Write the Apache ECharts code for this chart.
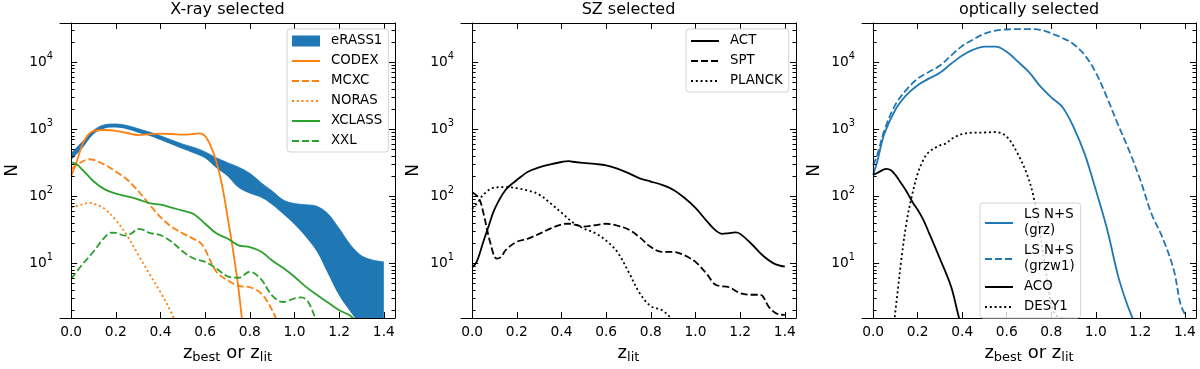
<!DOCTYPE html>
<html><head><meta charset="utf-8">
<script src="https://cdn.jsdelivr.net/npm/echarts@6/dist/echarts.min.js"></script>
<style>html,body{margin:0;padding:0;background:#fff}#c{width:1200px;height:369px}</style>
</head><body><div id="c"></div>
<script>
// ---------------- data ----------------
const panelTitles = ['X-ray selected', 'SZ selected', 'optically selected'];
const xTickValues = [0, 0.2, 0.4, 0.6, 0.8, 1.0, 1.2, 1.4];
const yMajorValues = [10, 100, 1000, 10000];

// X-ray panel
const erassZ = [0,0.05,0.1,0.15,0.2,0.25,0.3,0.35,0.4,0.45,0.5,0.55,0.6,0.65,0.7,0.75,0.8,0.85,0.9,0.95,1.0,1.05,1.1,1.15,1.2,1.25,1.3,1.35,1.4];
const erassUpper = [437,650,960,1170,1200,1140,1020,910,800,690,600,535,460,375,318,272,220,160,120,88,78,75,71,55,33,19,13,11.2,10.5];
const erassLower = [347,520,845,1030,1060,1000,890,800,690,595,510,440,370,265,200,134,110,96,75,54,38,25,15,7,3.3,1.9,1.15,0.7,0.45];
const codexZ = [0,0.025,0.05,0.075,0.1,0.15,0.2,0.25,0.3,0.35,0.4,0.45,0.5,0.55,0.575,0.6,0.625,0.65,0.675,0.7,0.725,0.75,0.775,0.8];
const codexN = [200,330,590,820,940,975,945,880,820,845,860,850,830,850,870,790,560,330,150,50,15.5,4,0.7,0.15];
const mcxcZ = [0,0.05,0.08,0.1,0.15,0.2,0.25,0.3,0.35,0.4,0.45,0.5,0.55,0.58,0.6,0.65,0.7,0.75,0.8,0.85,0.9,0.95];
const mcxcN = [255,330,357,350,296,235,178,120,76,49,35,28,23,20,16,7.5,5.6,4.6,4.4,3.6,2.0,0.8];
const norasZ = [0,0.05,0.08,0.1,0.15,0.2,0.25,0.3,0.35,0.4,0.45,0.5];
const norasN = [68,76,80,78,65,44,26,13.5,7,3.7,1.8,0.8];
const xclassZ = [0,0.025,0.05,0.1,0.15,0.2,0.25,0.3,0.35,0.4,0.45,0.5,0.55,0.6,0.65,0.7,0.75,0.8,0.85,0.9,0.95,1.0,1.05,1.1,1.15,1.2,1.25,1.3];
const xclassN = [320,300,250,168,127,110,100,90,79,75,68,61,54,39,28,23.5,18.5,17.5,15,11,8.5,6.3,4.5,3.4,2.6,2.0,1.65,1.1];
const xxlZ = [0,0.05,0.1,0.15,0.18,0.2,0.24,0.27,0.3,0.33,0.35,0.4,0.45,0.5,0.55,0.6,0.65,0.7,0.75,0.8,0.85,0.9,0.95,1.0,1.03,1.06,1.1,1.15];
const xxlN = [5.9,9.6,15,24.5,28.6,28.4,26,28,32.6,31,28.5,26.3,21,15,11.8,10.5,8.4,6.4,6.1,7.5,5.8,3.3,2.65,3.0,3.1,2.7,1.3,0.4];

// SZ panel
const actZ = [0,0.02,0.05,0.075,0.1,0.15,0.2,0.25,0.3,0.35,0.4,0.43,0.45,0.5,0.55,0.6,0.65,0.7,0.75,0.8,0.85,0.9,0.95,1.0,1.05,1.09,1.12,1.15,1.18,1.2,1.25,1.3,1.35,1.4];
const actN = [8.7,10.5,21,37,64,125,175,233,270,300,325,336,328,315,304,290,259,222,185,166,148,125,95,67,43,31,27.5,28.3,29,27.5,19.6,13.2,10,8.9];
const sptZ = [0,0.03,0.05,0.08,0.11,0.13,0.15,0.2,0.25,0.3,0.35,0.4,0.43,0.47,0.5,0.55,0.6,0.65,0.7,0.75,0.8,0.85,0.9,0.95,1.0,1.05,1.09,1.15,1.2,1.25,1.29,1.33,1.37,1.4];
const sptN = [115,94,57,21,11.8,12.5,15.8,21,23.4,27.5,33,38,39,37,35.3,37,39,36.5,32,24.5,17.5,14.8,14.8,13.2,10.5,7.0,4.8,4.4,3.6,3.4,3.4,2.2,1.74,1.7];
const planckZ = [0,0.03,0.05,0.1,0.15,0.2,0.25,0.3,0.35,0.4,0.45,0.5,0.55,0.6,0.65,0.7,0.75,0.8,0.85,0.9,0.95];
const planckN = [65,85,106,135,137,132,122,106,79,57,41,33,28.3,21.8,14.8,7.5,3.6,2.3,2.0,1.4,0.8];

// optical panel
const grzZ = [0,0.02,0.05,0.1,0.15,0.2,0.25,0.3,0.35,0.4,0.45,0.5,0.55,0.6,0.65,0.7,0.75,0.8,0.85,0.9,0.95,1.0,1.05,1.1,1.13,1.16,1.2];
const grzN = [209,346,850,1960,3250,4550,5700,6960,9500,12600,15400,17100,17100,14300,10200,7100,4400,3000,2150,1080,430,125,33,6.5,3.1,1.67,0.8];
const grzw1Z = [0,0.02,0.05,0.1,0.15,0.2,0.25,0.3,0.35,0.4,0.45,0.5,0.55,0.6,0.65,0.7,0.75,0.8,0.85,0.9,0.95,1.0,1.05,1.1,1.15,1.2,1.25,1.3,1.35,1.38,1.4];
const grzw1N = [290,430,955,2330,3900,5700,7150,8940,12600,17500,21900,26800,29700,30800,31300,31300,30500,27000,23000,18600,12800,7000,3000,1170,480,175,55,24,8,2.5,1.75];
const acoZ = [0,0.02,0.06,0.08,0.1,0.125,0.15,0.18,0.2,0.225,0.25,0.3,0.35,0.385,0.4];
const acoN = [209,225,257,245,209,158,118,79,63,45,29,11.7,4.5,1.57,1.1];
const desZ = [0.08,0.1,0.112,0.127,0.15,0.172,0.2,0.225,0.25,0.3,0.33,0.35,0.4,0.45,0.5,0.55,0.6,0.65,0.69,0.72,0.75,0.77,0.8,0.82,0.85,0.87];
const desN = [0.5,1.95,4.3,11.7,41,95,218,346,458,575,620,712,850,890,895,910,775,428,218,100,28,10,2.5,1.7,1.5,1.0];

// ---------------- chart ----------------
const FONT = "'DejaVu Sans', sans-serif";
const BLUE = '#1f77b4', ORANGE = '#ff7f0e', GREEN = '#2ca02c', BLACK = '#000000';
const DASH = [7, 3], DOT = [2, 2.8];
const LW = 1.8;
const Y_MIN = 1.53, Y_MAX = 38500, X_MIN = -0.05, X_MAX = 1.45;
const SMOOTH = 0.35;
const TICK_FS = 13.8;

const yMinorValues = [];
[1, 10, 100, 1000, 10000].forEach(d => { for (let k = 2; k <= 9; k++) yMinorValues.push(d * k); });

const zip = (zs, ns) => zs.map((z, i) => [z, ns[i]]);

const gridDefs = [
  { left: 60, top: 23, width: 335, height: 301 },
  { left: 461, top: 23, width: 335, height: 301 },
  { left: 862, top: 23, width: 334, height: 301 }
];

const xNames = ['{m|z}{s|best}{m| or z}{s|lit}', '{m|z}{s|lit}', '{m|z}{s|best}{m| or z}{s|lit}'];
const nameRich = {
  m: { fontSize: 18, fontFamily: FONT, color: '#000', lineHeight: 22, verticalAlign: 'middle' },
  s: { fontSize: 13, fontFamily: FONT, color: '#000', lineHeight: 13, verticalAlign: 'bottom' }
};

const xAxes = [], yAxes = [];
gridDefs.forEach((g, i) => {
  const baseX = {
    gridIndex: i, type: 'value', min: X_MIN, max: X_MAX, z: 10,
    axisLine: { show: true, onZero: false, lineStyle: { color: '#000', width: 1 } },
    axisTick: { show: true, inside: true, length: 6, customValues: xTickValues, lineStyle: { color: '#000', width: 1 } },
    splitLine: { show: false }
  };
  xAxes.push(Object.assign({}, baseX, {
    position: 'bottom',
    axisLabel: { show: true, customValues: xTickValues, formatter: v => v.toFixed(1), color: '#000', fontSize: TICK_FS, fontFamily: FONT, margin: 7 },
    name: xNames[i], nameLocation: 'middle', nameGap: 24,
    nameTextStyle: { rich: nameRich }
  }));
  xAxes.push(Object.assign({}, baseX, { position: 'top', axisLabel: { show: false } }));

  const baseY = {
    gridIndex: i, type: 'log', logBase: 10, min: Y_MIN, max: Y_MAX, z: 10,
    splitLine: { show: false }, axisLabel: { show: false }
  };
  yAxes.push(Object.assign({}, baseY, {
    position: 'left',
    axisLine: { show: true, lineStyle: { color: '#000', width: 1 } },
    axisTick: { show: true, inside: true, length: 6, customValues: yMajorValues, lineStyle: { color: '#000' } },
    axisLabel: {
      show: true, customValues: yMajorValues, margin: 7,
      formatter: v => '{b|10}{p|' + Math.round(Math.log10(v)) + '}',
      rich: {
        b: { fontSize: TICK_FS, fontFamily: FONT, color: '#000', lineHeight: 22, verticalAlign: 'middle' },
        p: { fontSize: 9.8, fontFamily: FONT, color: '#000', lineHeight: 9, verticalAlign: 'top' }
      }
    },
    name: 'N', nameLocation: 'middle', nameGap: 39, nameRotate: 90,
    nameTextStyle: { fontSize: 17, fontFamily: FONT, color: '#000' }
  }));
  yAxes.push(Object.assign({}, baseY, {
    position: 'left', axisLine: { show: false },
    axisTick: { show: true, inside: true, length: 3.5, customValues: yMinorValues, lineStyle: { color: '#000' } }
  }));
  yAxes.push(Object.assign({}, baseY, {
    position: 'right',
    axisLine: { show: true, lineStyle: { color: '#000', width: 1 } },
    axisTick: { show: true, inside: true, length: 6, customValues: yMajorValues, lineStyle: { color: '#000' } }
  }));
  yAxes.push(Object.assign({}, baseY, {
    position: 'right', axisLine: { show: false },
    axisTick: { show: true, inside: true, length: 3.5, customValues: yMinorValues, lineStyle: { color: '#000' } }
  }));
});

function lineSeries(name, panel, zs, ns, color, type) {
  return {
    name, type: 'line', xAxisIndex: panel * 2, yAxisIndex: panel * 4,
    data: zip(zs, ns), showSymbol: false, symbol: 'none', smooth: SMOOTH,
    clip: true, color: color,
    lineStyle: { color: color, width: LW, type: type || 'solid', cap: 'butt' },
    z: 3
  };
}

// eRASS1 band: upper curve filled in blue, lower curve filled in white on top of it
const series = [
  {
    name: 'eRASS1', type: 'line', xAxisIndex: 0, yAxisIndex: 0,
    data: zip(erassZ, erassUpper), showSymbol: false, symbol: 'none', smooth: SMOOTH, clip: true, color: BLUE,
    lineStyle: { width: 0.8, color: BLUE }, areaStyle: { color: BLUE, opacity: 1 }, z: 1
  },
  {
    name: 'eRASS1 lower edge', type: 'line', xAxisIndex: 0, yAxisIndex: 0,
    data: zip(erassZ, erassLower), showSymbol: false, symbol: 'none', smooth: SMOOTH, clip: true, color: '#fff',
    lineStyle: { width: 0 }, areaStyle: { color: '#ffffff', opacity: 1 }, silent: true, z: 1
  },
  lineSeries('CODEX', 0, codexZ, codexN, ORANGE),
  lineSeries('MCXC', 0, mcxcZ, mcxcN, ORANGE, DASH),
  lineSeries('NORAS', 0, norasZ, norasN, ORANGE, DOT),
  lineSeries('XCLASS', 0, xclassZ, xclassN, GREEN),
  lineSeries('XXL', 0, xxlZ, xxlN, GREEN, DASH),
  lineSeries('ACT', 1, actZ, actN, BLACK),
  lineSeries('SPT', 1, sptZ, sptN, BLACK, DASH),
  lineSeries('PLANCK', 1, planckZ, planckN, BLACK, DOT),
  lineSeries('LS N+S\n(grz)', 2, grzZ, grzN, BLUE),
  lineSeries('LS N+S\n(grzw1)', 2, grzw1Z, grzw1N, BLUE, DASH),
  lineSeries('ACO', 2, acoZ, acoN, BLACK),
  lineSeries('DESY1', 2, desZ, desN, BLACK, DOT)
];

const legendBase = {
  orient: 'vertical', itemWidth: 28, itemHeight: 11, itemGap: 4,
  padding: [4, 6, 3, 4], borderColor: '#d3d3d3', borderWidth: 1, borderRadius: 3,
  backgroundColor: 'rgba(255,255,255,0.8)', selectedMode: false, z: 12,
  itemStyle: { opacity: 0 },
  textStyle: { fontSize: 13.3, fontFamily: FONT, color: '#000', lineHeight: 16, padding: [0, 0, 0, 6] }
};
const legends = [
  Object.assign({}, legendBase, { left: 287, top: 29, data: [{ name: 'eRASS1', icon: 'rect', itemStyle: { opacity: 1, color: BLUE } }, 'CODEX', 'MCXC', 'NORAS', 'XCLASS', 'XXL'] }),
  Object.assign({}, legendBase, { left: 686, top: 29, data: ['ACT', 'SPT', 'PLANCK'] }),
  Object.assign({}, legendBase, { left: 980, top: 203, data: ['LS N+S\n(grz)', 'LS N+S\n(grzw1)', 'ACO', 'DESY1'] })
];

const titles = panelTitles.map((t, i) => ({
  text: t, left: gridDefs[i].left + gridDefs[i].width / 2, top: 1, textAlign: 'center', padding: 0,
  textStyle: { fontSize: 16, fontWeight: 'normal', fontFamily: FONT, color: '#000', lineHeight: 18 }
}));

const chart = echarts.init(document.getElementById('c'), null, { renderer: 'canvas' });
chart.setOption({
  animation: false,
  backgroundColor: '#fff',
  title: titles,
  grid: gridDefs,
  xAxis: xAxes,
  yAxis: yAxes,
  legend: legends,
  series: series
});
</script>
</body></html>
